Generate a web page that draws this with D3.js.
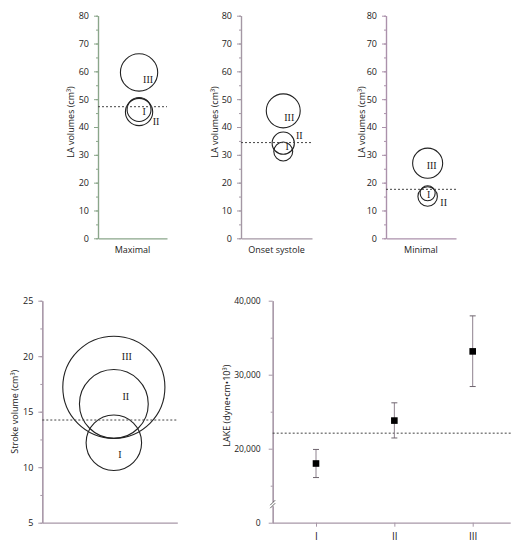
<!DOCTYPE html>
<html>
<head>
<meta charset="utf-8">
<script src="https://cdn.jsdelivr.net/npm/d3@7"></script>
<style>
  body { margin: 0; background: #fff; }
  svg { display: block; }
  .tick text { font-family: "Open Sans", "DejaVu Sans", sans-serif; font-size: 9px; fill: #222; }
  .title { font-family: "Open Sans", "DejaVu Sans", sans-serif; font-size: 9px; fill: #222; }
  .roman { font-family: "Liberation Serif", "DejaVu Serif", serif; font-size: 10px; fill: #222; }
</style>
</head>
<body>
<div id="chart"></div>
<script>
// ---- data ----
const groups = ['I', 'II', 'III'];
const laPhases = ['Maximal', 'Onset systole', 'Minimal'];
// LA volume centre per group (cm3) and circle radius (cm3 units)
const maximalVol = [46.3, 45.4, 59.6];
const maximalRad = [4.3, 4.9, 6.7];
const onsetVol = [31.2, 34.2, 45.8];
const onsetRad = [3.4, 4.0, 6.1];
const minimalVol = [16.2, 15.0, 27.0];
const minimalRad = [2.7, 3.5, 5.4];
const laReference = [47.3, 34.4, 17.6];
const laTicks = [0, 10, 20, 30, 40, 50, 60, 70, 80];

const strokeVol = [12.2, 15.7, 17.2];
const strokeRad = [2.5, 3.1, 4.6];
const strokeReference = 14.25;
const strokeTicks = [5, 10, 15, 20, 25];

const lakeMean = [18000, 23800, 33150];
const lakeLow = [16100, 21450, 28400];
const lakeHigh = [19900, 26200, 37950];
const lakeReference = 22100;
const lakeTicks = [0, 20000, 30000, 40000];
const lakeMinorTicks = [15000, 25000, 35000];

// ---- layout ----
const W = 520, H = 555;
const svg = d3.select('#chart').append('svg').attr('width', W).attr('height', H);

const laSets = [
  {vol: maximalVol, rad: maximalRad, left: 98, right: 167, axisColor: '#8aa68a',
   lab: [[5, 2.5], [17, 10], [9, 7]], yTitleX: 70},
  {vol: onsetVol, rad: onsetRad, left: 241, right: 312, axisColor: '#a497a4',
   lab: [[4, -5], [16, -8], [6, 7]], yTitleX: 214},
  {vol: minimalVol, rad: minimalRad, left: 386, right: 456, axisColor: '#ab91ab',
   lab: [[1, 1], [16, 6], [4, 2]], yTitleX: 361}
];
const topY = 15.7, botY = 238.3;
const circleXFrac = 0.595;

function styleAxis(sel, color) {
  sel.select('.domain').attr('stroke', color).attr('stroke-width', 1.2);
  sel.selectAll('.tick line').attr('stroke', color).attr('stroke-width', 1);
}

laSets.forEach((p, i) => {
  const g = svg.append('g');
  const y = d3.scaleLinear().domain([0, 80]).range([botY, topY]);
  const x = d3.scaleLinear().domain([0, 1]).range([p.left, p.right]);

  const minor = g.append('g').attr('transform', `translate(${p.left},0)`)
    .call(d3.axisLeft(y).tickValues(d3.range(0, 81, 5)).tickSize(2).tickSizeOuter(0).tickFormat(''));
  styleAxis(minor, p.axisColor);
  const major = g.append('g').attr('transform', `translate(${p.left},0)`)
    .call(d3.axisLeft(y).tickValues(laTicks).tickSize(4).tickSizeOuter(0).tickPadding(5));
  styleAxis(major, p.axisColor);

  const xa = g.append('g').attr('transform', `translate(0,${botY})`)
    .call(d3.axisBottom(x).tickValues([]).tickSizeOuter(0));
  styleAxis(xa, p.axisColor);

  g.append('text').attr('class', 'title')
    .attr('x', x(0.5)).attr('y', botY + 15).attr('text-anchor', 'middle')
    .text(laPhases[i]);
  g.append('text').attr('class', 'title')
    .attr('transform', `translate(${p.yTitleX},${(topY + botY) / 2 - 5}) rotate(-90)`)
    .attr('text-anchor', 'middle').attr('dominant-baseline', 'central')
    .text('LA volumes (cm³)');

  const pxPerUnit = (botY - topY) / 80;
  g.selectAll('circle.bub').data(groups).join('circle')
    .attr('cx', x(circleXFrac))
    .attr('cy', (d, j) => y(p.vol[j]))
    .attr('r', (d, j) => p.rad[j] * pxPerUnit)
    .attr('fill', 'none').attr('stroke', '#222').attr('stroke-width', 1.1);

  g.append('line')
    .attr('x1', x(0)).attr('x2', x(1))
    .attr('y1', y(laReference[i])).attr('y2', y(laReference[i]))
    .attr('stroke', '#444').attr('stroke-width', 1).attr('stroke-dasharray', '2,2');

  g.selectAll('text.roman').data(groups).join('text').attr('class', 'roman')
    .attr('x', (d, j) => x(circleXFrac) + p.lab[j][0])
    .attr('y', (d, j) => y(p.vol[j]) + p.lab[j][1])
    .attr('text-anchor', 'middle').attr('dominant-baseline', 'central')
    .text(d => d);
});

// ---- stroke volume panel ----
(function() {
  const left = 42.3, right = 177.3, top = 300.7, bottom = 522.7;
  const color = '#a797a7';
  const g = svg.append('g');
  const y = d3.scaleLinear().domain([5, 25]).range([bottom, top]);
  const x = d3.scaleLinear().domain([0, 1]).range([left, right]);
  const minor = g.append('g').attr('transform', `translate(${left},0)`)
    .call(d3.axisLeft(y).tickValues(d3.range(5, 25.1, 2.5)).tickSize(2).tickSizeOuter(0).tickFormat(''));
  styleAxis(minor, color);
  const major = g.append('g').attr('transform', `translate(${left},0)`)
    .call(d3.axisLeft(y).tickValues(strokeTicks).tickSize(4).tickSizeOuter(0).tickPadding(5));
  styleAxis(major, color);
  const xa = g.append('g').attr('transform', `translate(0,${bottom})`)
    .call(d3.axisBottom(x).tickValues([]).tickSizeOuter(0));
  styleAxis(xa, color);

  g.append('text').attr('class', 'title')
    .attr('transform', `translate(14,${(top + bottom) / 2})rotate(-90)`)
    .attr('text-anchor', 'middle').attr('dominant-baseline', 'central')
    .text('Stroke volume (cm³)');

  const pxPerUnit = (bottom - top) / 20;
  const cx = x(0.53);
  g.selectAll('circle.bub').data(groups).join('circle')
    .attr('cx', cx)
    .attr('cy', (d, j) => y(strokeVol[j]))
    .attr('r', (d, j) => strokeRad[j] * pxPerUnit)
    .attr('fill', 'none').attr('stroke', '#222').attr('stroke-width', 1.1);

  g.append('line')
    .attr('x1', x(0)).attr('x2', x(1))
    .attr('y1', y(strokeReference)).attr('y2', y(strokeReference))
    .attr('stroke', '#444').attr('stroke-width', 1).attr('stroke-dasharray', '2,2');

  const lab = [[6, 12], [12, -7.5], [13, -31]];
  g.selectAll('text.roman').data(groups).join('text').attr('class', 'roman')
    .attr('x', (d, j) => cx + lab[j][0])
    .attr('y', (d, j) => y(strokeVol[j]) + lab[j][1])
    .attr('text-anchor', 'middle').attr('dominant-baseline', 'central')
    .text(d => d);
})();

// ---- LAKE panel ----
(function() {
  const left = 272.7, right = 510.7, top = 300.7, bottom = 522.7;
  const color = '#a797a7';
  const g = svg.append('g');
  const h = bottom - top;
  // broken axis: 0 sits where 10,000 would be
  const y = d3.scaleLinear().domain([0, 15000, 40000]).range([bottom, bottom - h / 6, top]);
  const x = d3.scalePoint().domain(groups).range([left + 43.3, left + 200]);

  const minor = g.append('g').attr('transform', `translate(${left},0)`)
    .call(d3.axisLeft(y).tickValues(lakeMinorTicks).tickSize(2).tickSizeOuter(0).tickFormat(''));
  styleAxis(minor, color);
  const major = g.append('g').attr('transform', `translate(${left},0)`)
    .call(d3.axisLeft(y).tickValues(lakeTicks).tickSize(4).tickSizeOuter(0).tickPadding(8)
      .tickFormat(d3.format(',')));
  styleAxis(major, color);
  major.selectAll('.tick text').style('font-size', '8.5px');

  // axis break
  const by = (y(0) + y(15000)) / 2;
  g.append('rect').attr('x', left - 3).attr('y', by - 2).attr('width', 6).attr('height', 4).attr('fill', '#fff');
  [-1.5, 1.5].forEach(o => {
    g.append('line').attr('x1', left - 2.5).attr('x2', left + 2.5)
      .attr('y1', by + o + 2.5).attr('y2', by + o - 2.5)
      .attr('stroke', '#555').attr('stroke-width', 0.9);
  });

  const xa = g.append('g').attr('transform', `translate(0,${bottom})`)
    .call(d3.axisBottom(x).tickSize(4).tickSizeOuter(0).tickPadding(6));
  xa.select('.domain').attr('d', `M${left},0.5H${right}`);
  styleAxis(xa, color);
  xa.selectAll('.tick text').attr('class', 'roman').style('font-size', '10px');

  g.append('text').attr('class', 'title')
    .attr('transform', `translate(226,${(top + bottom) / 2 - 6})rotate(-90)`)
    .attr('text-anchor', 'middle').attr('dominant-baseline', 'central')
    .text('LAKE (dyne•cm•10³)');

  g.append('line')
    .attr('x1', left).attr('x2', right)
    .attr('y1', y(lakeReference)).attr('y2', y(lakeReference))
    .attr('stroke', '#444').attr('stroke-width', 1).attr('stroke-dasharray', '2,2');

  const eb = g.selectAll('g.err').data(groups).join('g').attr('class', 'err');
  eb.append('line')
    .attr('x1', d => x(d)).attr('x2', d => x(d))
    .attr('y1', (d, j) => y(lakeLow[j])).attr('y2', (d, j) => y(lakeHigh[j]))
    .attr('stroke', '#8e828e').attr('stroke-width', 1);
  [lakeLow, lakeHigh].forEach(arr => {
    eb.append('line')
      .attr('x1', d => x(d) - 3).attr('x2', d => x(d) + 3)
      .attr('y1', (d, j) => y(arr[j])).attr('y2', (d, j) => y(arr[j]))
      .attr('stroke', '#6e646e').attr('stroke-width', 1);
  });
  eb.append('rect')
    .attr('x', d => x(d) - 3.3).attr('y', (d, j) => y(lakeMean[j]) - 3.3)
    .attr('width', 6.6).attr('height', 6.6).attr('fill', '#000');
})();
</script>
</body>
</html>
